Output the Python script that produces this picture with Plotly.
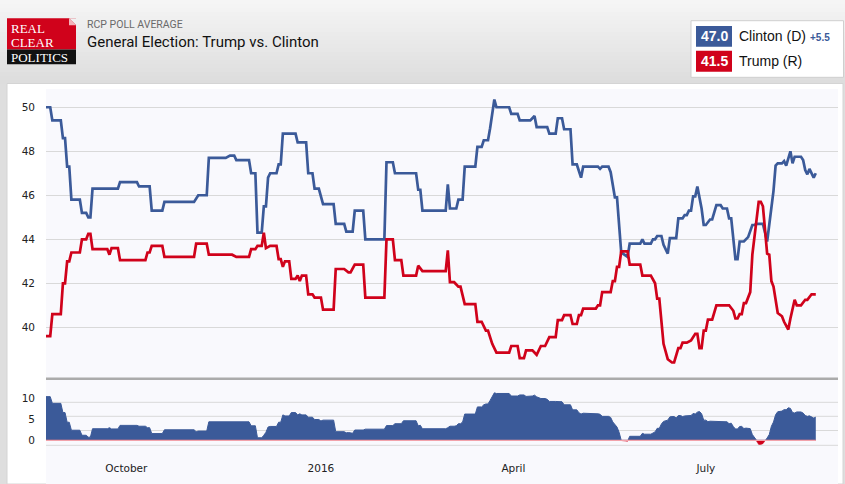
import numpy as np
import pandas as pd
import plotly.graph_objects as go

# ---------------- data ----------------
clinton_dates = [
    "2015-08-24", "2015-08-26", "2015-08-27", "2015-08-31", "2015-09-01", "2015-09-02",
    "2015-09-03", "2015-09-04", "2015-09-05", "2015-09-09", "2015-09-10", "2015-09-12",
    "2015-09-13", "2015-09-14", "2015-09-15", "2015-09-27", "2015-09-28", "2015-10-06",
    "2015-10-07", "2015-10-12", "2015-10-13", "2015-10-18", "2015-10-19", "2015-11-02",
    "2015-11-04", "2015-11-08", "2015-11-09", "2015-11-17", "2015-11-19", "2015-11-21",
    "2015-11-22", "2015-11-28", "2015-11-29", "2015-12-01", "2015-12-02", "2015-12-04",
    "2015-12-05", "2015-12-06", "2015-12-07", "2015-12-08", "2015-12-11", "2015-12-12",
    "2015-12-13", "2015-12-14", "2015-12-20", "2015-12-21", "2015-12-25", "2015-12-26",
    "2015-12-28", "2015-12-29", "2015-12-31", "2016-01-02", "2016-01-07", "2016-01-08",
    "2016-01-12", "2016-01-13", "2016-01-16", "2016-01-17", "2016-01-21", "2016-01-22",
    "2016-01-31", "2016-02-01", "2016-02-04", "2016-02-05", "2016-02-15", "2016-02-16",
    "2016-02-17", "2016-02-18", "2016-02-29", "2016-03-01", "2016-03-02", "2016-03-05",
    "2016-03-06", "2016-03-08", "2016-03-09", "2016-03-14", "2016-03-15", "2016-03-17",
    "2016-03-18", "2016-03-20", "2016-03-21", "2016-03-23", "2016-03-24", "2016-03-30",
    "2016-03-31", "2016-04-03", "2016-04-04", "2016-04-09", "2016-04-11", "2016-04-12",
    "2016-04-17", "2016-04-18", "2016-04-21", "2016-04-22", "2016-04-24", "2016-04-25",
    "2016-04-28", "2016-04-29", "2016-05-01", "2016-05-03", "2016-05-04", "2016-05-11",
    "2016-05-12", "2016-05-13", "2016-05-16", "2016-05-17", "2016-05-19", "2016-05-20",
    "2016-05-22", "2016-05-25", "2016-05-26", "2016-05-31", "2016-06-01", "2016-06-02",
    "2016-06-05", "2016-06-06", "2016-06-07", "2016-06-08", "2016-06-10", "2016-06-11",
    "2016-06-13", "2016-06-14", "2016-06-17", "2016-06-18", "2016-06-20", "2016-06-21",
    "2016-06-22", "2016-06-23", "2016-06-24", "2016-06-25", "2016-06-26", "2016-06-27",
    "2016-06-29", "2016-06-30", "2016-07-01", "2016-07-03", "2016-07-04", "2016-07-06",
    "2016-07-08", "2016-07-09", "2016-07-11", "2016-07-12", "2016-07-13", "2016-07-15",
    "2016-07-16", "2016-07-17", "2016-07-19", "2016-07-21", "2016-07-23", "2016-07-24",
    "2016-07-25", "2016-07-28", "2016-07-30", "2016-08-02", "2016-08-03", "2016-08-04",
    "2016-08-06", "2016-08-07", "2016-08-08", "2016-08-09", "2016-08-10", "2016-08-11",
    "2016-08-12", "2016-08-15", "2016-08-16", "2016-08-17", "2016-08-18", "2016-08-19",
    "2016-08-21", "2016-08-22",
]
clinton_vals = [
    50.0, 50.0, 49.4, 49.4, 48.6, 48.6,
    47.3, 47.3, 45.8, 45.8, 45.2, 45.2,
    45.0, 45.0, 46.3, 46.3, 46.6, 46.6,
    46.4, 46.4, 45.3, 45.3, 45.7, 45.7,
    46.0, 46.0, 47.7, 47.7, 47.8, 47.8,
    47.6, 47.6, 47.0, 47.0, 44.3, 44.3,
    45.5, 45.5, 46.8, 47.0, 47.0, 47.4,
    47.4, 48.8, 48.8, 48.4, 48.4, 47.0,
    47.0, 46.3, 46.3, 45.6, 45.6, 44.7,
    44.7, 44.35, 44.35, 45.3, 45.3, 44.0,
    44.0, 47.5, 47.5, 47.0, 47.0, 46.25,
    46.25, 45.3, 45.3, 46.5, 45.4, 45.4,
    45.8, 45.8, 47.3, 47.3, 48.2, 48.2,
    48.5, 48.5, 49.05, 50.35, 50.0, 50.0,
    49.7, 49.7, 49.4, 49.4, 49.6, 49.1,
    49.1, 48.8, 48.8, 49.5, 49.5, 49.0,
    49.0, 47.4, 47.4, 46.8, 47.3, 47.3,
    47.2, 47.3, 47.3, 47.05, 45.9, 45.9,
    43.4, 43.2, 43.8, 43.8, 44.0, 43.8,
    43.8, 44.0, 44.0, 44.15, 44.15, 43.75,
    43.35, 44.05, 44.05, 44.95, 44.95, 45.1,
    45.1, 45.3, 45.3, 45.95, 45.95, 46.4,
    45.4, 44.65, 44.65, 44.9, 44.9, 45.55,
    45.55, 45.4, 45.4, 44.95, 44.95, 43.1,
    43.1, 43.9, 43.9, 44.1, 44.65, 44.65,
    44.7, 44.7, 43.9, 46.2, 47.35, 47.45,
    47.45, 47.55, 47.35, 47.65, 48.0, 47.45,
    47.75, 47.75, 47.6, 47.15, 46.95, 47.2,
    46.8, 47.0,
]

trump_dates = [
    "2015-08-24", "2015-08-26", "2015-08-27", "2015-08-31", "2015-09-01", "2015-09-02",
    "2015-09-03", "2015-09-04", "2015-09-05", "2015-09-09", "2015-09-10", "2015-09-12",
    "2015-09-13", "2015-09-14", "2015-09-15", "2015-09-22", "2015-09-23", "2015-09-24",
    "2015-09-27", "2015-09-28", "2015-10-10", "2015-10-11", "2015-10-12", "2015-10-13",
    "2015-10-18", "2015-10-19", "2015-11-02", "2015-11-03", "2015-11-08", "2015-11-09",
    "2015-11-20", "2015-11-22", "2015-11-28", "2015-11-29", "2015-12-01", "2015-12-02",
    "2015-12-04", "2015-12-05", "2015-12-06", "2015-12-08", "2015-12-11", "2015-12-12",
    "2015-12-13", "2015-12-14", "2015-12-15", "2015-12-17", "2015-12-18", "2015-12-20",
    "2015-12-21", "2015-12-22", "2015-12-23", "2015-12-25", "2015-12-26", "2015-12-28",
    "2015-12-29", "2016-01-01", "2016-01-02", "2016-01-07", "2016-01-08", "2016-01-12",
    "2016-01-14", "2016-01-15", "2016-01-17", "2016-01-21", "2016-01-22", "2016-01-31",
    "2016-02-01", "2016-02-04", "2016-02-05", "2016-02-08", "2016-02-09", "2016-02-15",
    "2016-02-16", "2016-02-18", "2016-02-29", "2016-03-01", "2016-03-02", "2016-03-04",
    "2016-03-06", "2016-03-07", "2016-03-09", "2016-03-14", "2016-03-15", "2016-03-17",
    "2016-03-19", "2016-03-20", "2016-03-22", "2016-03-24", "2016-03-30", "2016-03-31",
    "2016-04-03", "2016-04-04", "2016-04-06", "2016-04-07", "2016-04-10", "2016-04-12",
    "2016-04-14", "2016-04-16", "2016-04-18", "2016-04-21", "2016-04-22", "2016-04-24",
    "2016-04-25", "2016-04-28", "2016-04-29", "2016-05-01", "2016-05-02", "2016-05-03",
    "2016-05-04", "2016-05-10", "2016-05-11", "2016-05-12", "2016-05-13", "2016-05-17",
    "2016-05-18", "2016-05-19", "2016-05-20", "2016-05-21", "2016-05-22", "2016-05-25",
    "2016-05-26", "2016-05-31", "2016-06-01", "2016-06-05", "2016-06-07", "2016-06-08",
    "2016-06-09", "2016-06-11", "2016-06-13", "2016-06-15", "2016-06-16", "2016-06-18",
    "2016-06-19", "2016-06-20", "2016-06-22", "2016-06-24", "2016-06-26", "2016-06-27",
    "2016-06-28", "2016-06-29", "2016-06-30", "2016-07-01", "2016-07-02", "2016-07-04",
    "2016-07-06", "2016-07-12", "2016-07-14", "2016-07-15", "2016-07-16", "2016-07-17",
    "2016-07-18", "2016-07-19", "2016-07-20", "2016-07-22", "2016-07-23", "2016-07-25",
    "2016-07-26", "2016-07-27", "2016-07-28", "2016-07-30", "2016-07-31", "2016-08-01",
    "2016-08-02", "2016-08-04", "2016-08-06", "2016-08-07", "2016-08-09", "2016-08-10",
    "2016-08-12", "2016-08-13", "2016-08-15", "2016-08-17", "2016-08-18", "2016-08-20",
    "2016-08-22",
]
trump_vals = [
    39.6, 39.6, 40.6, 40.6, 42.0, 42.0,
    43.0, 43.0, 43.4, 43.4, 44.0, 44.0,
    44.25, 44.25, 43.55, 43.55, 43.3, 43.6,
    43.6, 43.05, 43.05, 43.4, 43.4, 43.7,
    43.7, 43.2, 43.2, 43.8, 43.8, 43.3,
    43.3, 43.2, 43.2, 43.55, 43.55, 43.7,
    43.7, 44.3, 43.6, 43.7, 43.7, 43.1,
    43.1, 42.75, 43.0, 43.0, 42.2, 42.2,
    42.35, 42.1, 42.35, 42.35, 41.5, 41.5,
    41.35, 41.35, 40.8, 40.8, 42.65, 42.65,
    42.5, 42.5, 42.85, 42.85, 41.35, 41.35,
    44.0, 44.0, 43.05, 43.05, 42.35, 42.35,
    42.8, 42.55, 42.55, 43.5, 42.05, 42.05,
    41.85, 41.85, 41.05, 41.05, 40.25, 40.25,
    39.85, 39.85, 39.25, 38.85, 38.85, 39.15,
    39.15, 38.6, 38.6, 38.95, 38.95, 38.75,
    39.15, 39.15, 39.55, 39.55, 40.33, 40.33,
    40.55, 40.55, 40.15, 40.15, 40.55, 40.55,
    40.85, 40.85, 41.0, 41.0, 41.6, 41.6,
    42.1, 42.1, 42.75, 42.75, 43.45, 43.45,
    42.85, 42.85, 42.35, 42.35, 42.0, 41.3,
    41.3, 39.25, 38.55, 38.4, 38.4, 39.05,
    39.05, 39.3, 39.3, 39.4, 39.7, 39.7,
    39.05, 39.05, 39.85, 39.85, 40.35, 40.35,
    41.0, 41.0, 40.75, 40.4, 40.4, 40.6,
    40.6, 41.1, 41.1, 41.6, 43.3, 44.95,
    45.7, 45.7, 45.5, 43.35, 43.3, 42.1,
    41.85, 40.65, 40.5, 40.25, 39.9, 40.4,
    41.25, 41.0, 41.0, 41.25, 41.25, 41.5,
    41.5,
]

month_ticks = ["2015-10-01", "2016-01-01", "2016-04-01", "2016-07-01"]
month_labels = ["October", "2016", "April", "July"]
main_ticks = [40, 42, 44, 46, 48, 50]
spread_ticks = [0, 5, 10]

latest_clinton = 47.0
latest_trump = 41.5
header_kicker = "RCP POLL AVERAGE"
header_title = "General Election: Trump vs. Clinton"
clinton_name = "Clinton (D)"
trump_name = "Trump (R)"
logo_lines = ["REAL", "CLEAR", "POLITICS"]

# ---------------- styles ----------------
BLUE = "#3b5a99"
RED = "#d0021b"
W, H = 845, 484


def px(x):
    return x / W


def py(y):
    return 1 - y / H


# ---------------- spread (Clinton - Trump) ----------------
cd = pd.to_datetime(clinton_dates)
td = pd.to_datetime(trump_dates)
union = pd.DatetimeIndex(sorted(set(cd) | set(td)))
u = union.asi8.astype(float)
c_u = np.interp(u, cd.asi8.astype(float), clinton_vals)
t_u = np.interp(u, td.asi8.astype(float), trump_vals)
sp = c_u - t_u

# insert zero crossings so the positive / negative fills split cleanly
xs, ys = [u[0]], [sp[0]]
for i in range(1, len(u)):
    a, b = sp[i - 1], sp[i]
    if a * b < 0:
        f = a / (a - b)
        xs.append(u[i - 1] + f * (u[i] - u[i - 1]))
        ys.append(0.0)
    xs.append(u[i])
    ys.append(b)
xs = pd.to_datetime(np.array(xs).astype("int64"))
ys = np.array(ys)
pos = np.maximum(ys, 0)
neg = np.minimum(ys, 0)

fig = go.Figure()

fig.add_trace(go.Scatter(x=cd, y=clinton_vals, mode="lines",
                         line=dict(color=BLUE, width=2.7), xaxis="x", yaxis="y",
                         name=clinton_name, showlegend=False))
fig.add_trace(go.Scatter(x=td, y=trump_vals, mode="lines",
                         line=dict(color=RED, width=2.7), xaxis="x", yaxis="y",
                         name=trump_name, showlegend=False))

fig.add_trace(go.Scatter(x=xs, y=pos, mode="lines", fill="tozeroy",
                         fillcolor=BLUE, line=dict(color=BLUE, width=1),
                         xaxis="x2", yaxis="y2", showlegend=False))
fig.add_trace(go.Scatter(x=xs, y=neg, mode="lines", fill="tozeroy",
                         fillcolor=RED, line=dict(color=RED, width=0.5),
                         xaxis="x2", yaxis="y2", showlegend=False))
fig.add_trace(go.Scatter(x=[cd[0], cd[-1]], y=[0, 0], mode="lines",
                         line=dict(color="#f2a2aa", width=1.2),
                         xaxis="x2", yaxis="y2", showlegend=False))

shapes = []
# header gradient
n = 21
for i in range(n):
    t = i / (n - 1)
    g = int(round(245 - t * (245 - 221)))
    shapes.append(dict(type="rect", xref="paper", yref="paper", layer="below",
                       x0=0, x1=1, y0=py(i * 4 + 4.5), y1=py(i * 4),
                       fillcolor=f"rgb({g},{g},{g})", line=dict(width=0)))
# grey under header
shapes.append(dict(type="rect", xref="paper", yref="paper", layer="below",
                   x0=0, x1=1, y0=0, y1=py(84), fillcolor="#dedede", line=dict(width=0)))
# white panel
shapes.append(dict(type="rect", xref="paper", yref="paper", layer="below",
                   x0=px(7), x1=px(843), y0=0, y1=py(83.5), fillcolor="#ffffff",
                   line=dict(color="#d4d4d4", width=1)))
# plot background
shapes.append(dict(type="rect", xref="paper", yref="paper", layer="below",
                   x0=px(46), x1=px(838), y0=0, y1=py(89), fillcolor="#f9f9fd",
                   line=dict(width=0)))
# lower panel grid lines
for gy in [402.3, 416.3, 430.5, 445.3]:
    shapes.append(dict(type="line", xref="paper", yref="paper", layer="below",
                       x0=px(46), x1=px(838), y0=py(gy), y1=py(gy),
                       line=dict(color="#d9d9d9", width=1)))
# separator
shapes.append(dict(type="line", xref="paper", yref="paper", layer="above",
                   x0=px(46), x1=px(838), y0=py(378.7), y1=py(378.7),
                   line=dict(color="#ababab", width=2.5)))

# logo
shapes.append(dict(type="rect", xref="paper", yref="paper",
                   x0=px(7), x1=px(76), y0=py(49.5), y1=py(18.3),
                   fillcolor=RED, line=dict(width=0)))
shapes.append(dict(type="rect", xref="paper", yref="paper",
                   x0=px(7), x1=px(76), y0=py(64.3), y1=py(49.5),
                   fillcolor="#111111", line=dict(width=0)))


def ppath(pts):
    s = "M " + " L ".join(f"{px(a):.5f},{py(b):.5f}" for a, b in pts) + " Z"
    return s


shapes.append(dict(type="path", xref="paper", yref="paper",
                   path=ppath([(69, 18.3), (76.2, 18.3), (76.2, 25.3)]),
                   fillcolor="#f0f0f0", line=dict(width=0)))
shapes.append(dict(type="path", xref="paper", yref="paper",
                   path=ppath([(69, 18.3), (76.2, 25.3), (69, 25.3)]),
                   fillcolor="#f3b3ba", line=dict(width=0)))

# legend box
shapes.append(dict(type="rect", xref="paper", yref="paper",
                   x0=px(691), x1=px(843.5), y0=py(77.3), y1=py(20.7),
                   fillcolor="#ffffff", line=dict(color="#cfcfcf", width=1)))
shapes.append(dict(type="rect", xref="paper", yref="paper",
                   x0=px(696), x1=px(732), y0=py(46.7), y1=py(26),
                   fillcolor=BLUE, line=dict(width=0)))
shapes.append(dict(type="rect", xref="paper", yref="paper",
                   x0=px(696), x1=px(732), y0=py(71.7), y1=py(50.7),
                   fillcolor=RED, line=dict(width=0)))

ann = []


def text(x, y, s, size, color, family, xanchor="left", bold=False):
    if bold:
        s = f"<b>{s}</b>"
    ann.append(dict(x=px(x), y=py(y), xref="paper", yref="paper", text=s,
                    showarrow=False, xanchor=xanchor, yanchor="middle",
                    font=dict(size=size, color=color, family=family)))


SERIF = "Liberation Serif"
text(8.5, 28.8, logo_lines[0], 13, "#ffffff", SERIF)
text(8.5, 43.0, logo_lines[1], 13, "#ffffff", SERIF)
text(8.5, 57.6, logo_lines[2], 13, "#ffffff", SERIF)
text(85, 24, header_kicker, 10.5, "#6a6a6a", "Roboto")
text(85, 42, header_title, 15, "#111111", "Roboto")

SANS = "Liberation Sans"
text(714, 36.5, f"{latest_clinton:.1f}", 14, "#ffffff", SANS, "center", True)
text(714, 61.5, f"{latest_trump:.1f}", 14, "#ffffff", SANS, "center", True)
text(736.5, 36.5, clinton_name, 14, "#111111", SANS)
text(736.5, 61.5, trump_name, 14, "#111111", SANS)
text(807.5, 37.5, f"+{latest_clinton - latest_trump:.1f}", 10, BLUE, SANS, "left", True)

x_start = pd.Timestamp("2015-08-24")
x_end = pd.Timestamp("2016-09-01 12:00")
AX_FONT = dict(family="DejaVu Sans", size=10.5, color="#222222")

fig.update_layout(
    width=W, height=H, autosize=False,
    margin=dict(l=0, r=0, t=0, b=0),
    paper_bgcolor="#dedede", plot_bgcolor="rgba(0,0,0,0)",
    showlegend=False, shapes=shapes, annotations=ann,
    xaxis=dict(domain=[px(46), px(838)], range=[x_start, x_end], anchor="y",
               showticklabels=False, showgrid=False, zeroline=False, showline=False),
    xaxis2=dict(domain=[px(46), px(838)], range=[x_start, x_end], anchor="y2",
                matches="x", tickmode="array", tickvals=month_ticks, ticktext=month_labels,
                ticks="", showgrid=False, zeroline=False, showline=False,
                ticklabelstandoff=14, tickfont=AX_FONT),
    yaxis=dict(domain=[py(379), py(89)], range=[37.65, 50.83], anchor="x",
               tickmode="array", tickvals=main_ticks, ticks="",
               gridcolor="#d9d9d9", gridwidth=1, zeroline=False, showline=False,
               ticklabelstandoff=10, tickfont=AX_FONT),
    yaxis2=dict(domain=[py(446), py(380)], range=[-1.36, 14.36], anchor="x2",
                tickmode="array", tickvals=spread_ticks, ticks="",
                showgrid=False, zeroline=False, showline=False,
                ticklabelstandoff=10, tickfont=AX_FONT),
)

fig.write_html("out.html", config={"displayModeBar": False},
               post_script="document.body.style.margin='0px';"
                           "document.body.style.overflow='hidden';")
